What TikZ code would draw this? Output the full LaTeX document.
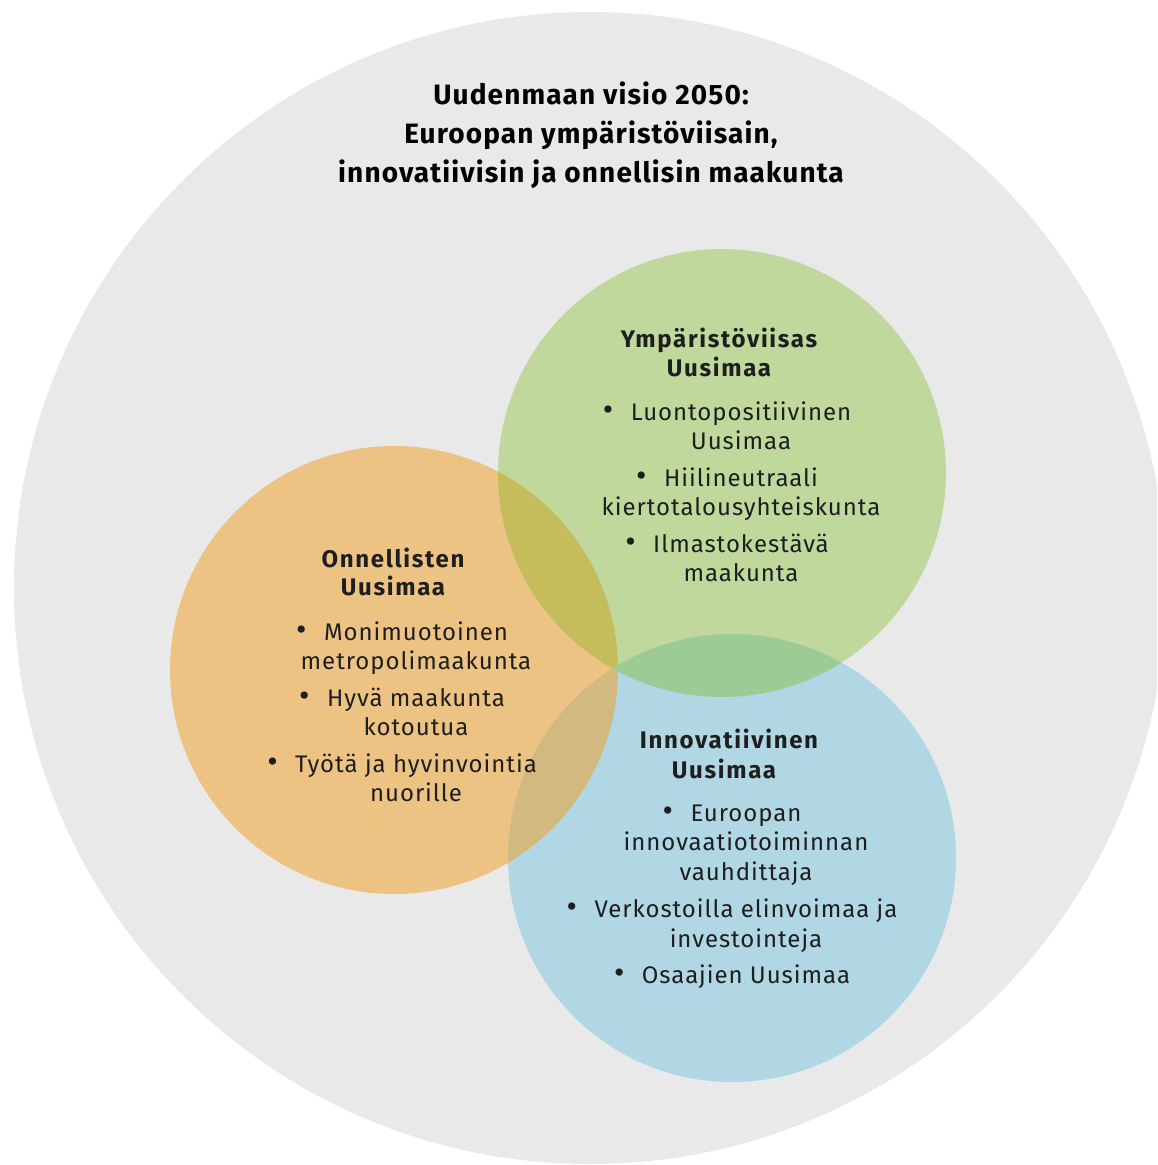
\documentclass[tikz,border=0pt]{standalone}
\usepackage{fontspec}
\setmainfont{Fira Sans}
\newfontfamily\bodyfont[LetterSpace=4]{Fira Sans}
\newfontfamily\headfont[LetterSpace=7]{Fira Sans}
\newfontfamily\titlefont[LetterSpace=4]{Fira Sans}
\definecolor{bggray}{HTML}{E9E9E9}
\definecolor{cgreen}{HTML}{C0D89C}
\definecolor{corange}{HTML}{EDC384}
\definecolor{cblue}{HTML}{B0D7E3}
\definecolor{cog}{HTML}{C5BC5C}
\definecolor{cgb}{HTML}{9DCB95}
\definecolor{cob}{HTML}{D2B97F}
\definecolor{txt}{HTML}{1E1E1E}
\newcommand{\bul}{\llap{{\fontsize{32}{30}\selectfont\textbullet}\hspace{17.5pt}}}
\tikzset{
  x=1pt, y=-1pt,
  titletext/.style={anchor=base, inner sep=0pt, text=black, font=\titlefont\fontsize{28}{34}\selectfont\bfseries},
  headtext/.style={anchor=base, inner sep=0pt, text=txt, font=\headfont\fontsize{24}{30}\selectfont\bfseries},
  bodytext/.style={anchor=base, inner sep=0pt, text=txt, font=\bodyfont\fontsize{24}{30}\selectfont},
}
\begin{document}
\begin{tikzpicture}
\useasboundingbox (0,0) rectangle (1157,1165);
\begin{scope}
\clip (0,0) rectangle (1157,1165);
\fill[bggray] (590,588) circle[radius=576];
\end{scope}
% circles
\fill[corange] (394,670) circle[radius=224];
\fill[cgreen] (722,473) circle[radius=224];
\fill[cblue] (732,858) circle[radius=224];
\begin{scope}
\clip (394,670) circle[radius=224];
\fill[cog] (722,473) circle[radius=224];
\fill[cob] (732,858) circle[radius=224];
\end{scope}
\begin{scope}
\clip (722,473) circle[radius=224];
\fill[cgb] (732,858) circle[radius=224];
\end{scope}
% title
\node[titletext] (t1) at (591,104) {Uudenmaan visio 2050:};
\node[titletext] (t2) at (591,143) {Euroopan ympäristöviisain,};
\node[titletext] (t3) at (591,182) {innovatiivisin ja onnellisin maakunta};
% green
\node[headtext] (gh1) at (719,347) {Ympäristöviisas};
\node[headtext] (gh2) at (719,376) {Uusimaa};
\node[bodytext] (g1) at (741,420) {\bul Luontopositiivinen};
\node[bodytext] (g2) at (741,449) {Uusimaa};
\node[bodytext] (g3) at (741,486) {\bul Hiilineutraali};
\node[bodytext] (g4) at (741,515) {kiertotalousyhteiskunta};
\node[bodytext] (g5) at (741,552) {\bul Ilmastokestävä};
\node[bodytext] (g6) at (741,581) {maakunta};
% orange
\node[headtext] (oh1) at (393,567) {Onnellisten};
\node[headtext] (oh2) at (393,595) {Uusimaa};
\node[bodytext] (o1) at (416,640) {\bul Monimuotoinen};
\node[bodytext] (o2) at (416,669) {metropolimaakunta};
\node[bodytext] (o3) at (416,706) {\bul Hyvä maakunta};
\node[bodytext] (o4) at (416,735) {kotoutua};
\node[bodytext] (o5) at (416,772) {\bul Työtä ja hyvinvointia};
\node[bodytext] (o6) at (416,801) {nuorille};
% blue
\node[headtext] (bh1) at (729,748) {Innovatiivinen};
\node[headtext] (bh2) at (724,778) {Uusimaa};
\node[bodytext] (b1) at (746,821) {\bul Euroopan};
\node[bodytext] (b2) at (746,850) {innovaatiotoiminnan};
\node[bodytext] (b3) at (746,880) {vauhdittaja};
\node[bodytext] (b4) at (746,917) {\bul Verkostoilla elinvoimaa ja};
\node[bodytext] (b5) at (746,947) {investointeja};
\node[bodytext] (b6) at (746,983) {\bul Osaajien Uusimaa};
\end{tikzpicture}
\end{document}
